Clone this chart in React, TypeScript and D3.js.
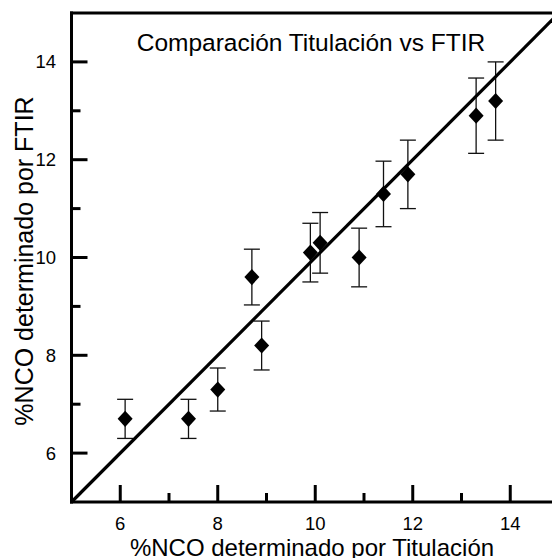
import React from "react";
import * as d3 from "d3";

// %NCO by titration (x) vs by FTIR (y), with FTIR uncertainty
const titulacion = [6.1, 7.4, 8.0, 8.7, 8.9, 9.9, 10.1, 10.9, 11.4, 11.9, 13.3, 13.7];
const ftir = [6.7, 6.7, 7.3, 9.6, 8.2, 10.1, 10.3, 10.0, 11.3, 11.7, 12.9, 13.2];
const errFtir = [0.4, 0.4, 0.44, 0.57, 0.5, 0.6, 0.62, 0.6, 0.67, 0.7, 0.77, 0.8];

const majorTicks = [6, 8, 10, 12, 14];
const minorTicks = [7, 9, 11, 13];
const identityLine = [5, 15];

const W = 552;
const H = 558;
const FONT = "'Liberation Sans', Arial, sans-serif";

// wide diamond marker
const diamond: d3.SymbolType = {
  draw(ctx, size) {
    const r = Math.sqrt(size / 2);
    ctx.moveTo(0, -r * 1.08);
    ctx.lineTo(r, 0);
    ctx.lineTo(0, r * 1.08);
    ctx.lineTo(-r, 0);
    ctx.closePath();
  },
};

export default function App() {
  const x = d3.scaleLinear().domain([5, 15]).range([71.5, 559]);
  const y = d3.scaleLinear().domain([5, 15]).range([502, 13]);
  const sym = d3.symbol().type(diamond).size(2 * 7.5 * 7.5)();
  const line = d3
    .line<number>()
    .x((d) => x(d))
    .y((d) => y(d));

  const pts = titulacion.map((t, i) => ({ t, f: ftir[i], e: errFtir[i] }));
  const x0 = x.range()[0];
  const y0 = y.range()[0];
  const yTop = y.range()[1];

  return (
    <div style={{ position: "fixed", left: 0, top: 0 }}>
      <svg width={W} height={H} style={{ display: "block", background: "#fff" }}>
        {/* error bars */}
        <g stroke="#111" strokeWidth={1.3} fill="none">
          {pts.map((p, i) => (
            <g key={i}>
              <line x1={x(p.t)} x2={x(p.t)} y1={y(p.f + p.e)} y2={y(p.f - p.e)} />
              <line x1={x(p.t) - 8} x2={x(p.t) + 8} y1={y(p.f + p.e)} y2={y(p.f + p.e)} />
              <line x1={x(p.t) - 8} x2={x(p.t) + 8} y1={y(p.f - p.e)} y2={y(p.f - p.e)} />
            </g>
          ))}
        </g>
        {/* 1:1 line */}
        <path d={line(identityLine) || ""} stroke="#000" strokeWidth={3.2} fill="none" />
        {/* markers */}
        <g fill="#000">
          {pts.map((p, i) => (
            <path key={i} d={sym || ""} transform={`translate(${x(p.t)},${y(p.f)})`} />
          ))}
        </g>
        {/* frame */}
        <g stroke="#000" strokeWidth={3} fill="none" strokeLinecap="square">
          <line x1={x0} x2={x0} y1={yTop} y2={y0} />
          <line x1={x0} x2={W + 10} y1={y0} y2={y0} />
          <line x1={x0} x2={W + 10} y1={yTop} y2={yTop} />
        </g>
        {/* ticks */}
        <g stroke="#000" strokeWidth={3}>
          {majorTicks.map((v) => (
            <line key={"xM" + v} x1={x(v)} x2={x(v)} y1={y0} y2={y0 - 17} />
          ))}
          {minorTicks.map((v) => (
            <line key={"xm" + v} x1={x(v)} x2={x(v)} y1={y0} y2={y0 - 9} />
          ))}
          {majorTicks.map((v) => (
            <line key={"yM" + v} x1={x0} x2={x0 + 16} y1={y(v)} y2={y(v)} />
          ))}
          {minorTicks.map((v) => (
            <line key={"ym" + v} x1={x0} x2={x0 + 9} y1={y(v)} y2={y(v)} />
          ))}
        </g>
        {/* tick labels */}
        <g fontFamily={FONT} fontSize={18.5} fill="#000">
          {majorTicks.map((v) => (
            <text key={"xl" + v} x={x(v)} y={530} textAnchor="middle">
              {v}
            </text>
          ))}
          {majorTicks.map((v) => (
            <text key={"yl" + v} x={56} y={y(v)} dy="0.35em" textAnchor="end">
              {v}
            </text>
          ))}
        </g>
        {/* titles */}
        <g fontFamily={FONT} fill="#000">
          <text x={311} y={51} textAnchor="middle" fontSize={24.5}>
            Comparación Titulación vs FTIR
          </text>
          <text x={312} y={556} textAnchor="middle" fontSize={24}>
            %NCO determinado por Titulación
          </text>
          <text transform="translate(33,261) rotate(-90)" textAnchor="middle" fontSize={25}>
            %NCO determinado por FTIR
          </text>
        </g>
      </svg>
    </div>
  );
}
